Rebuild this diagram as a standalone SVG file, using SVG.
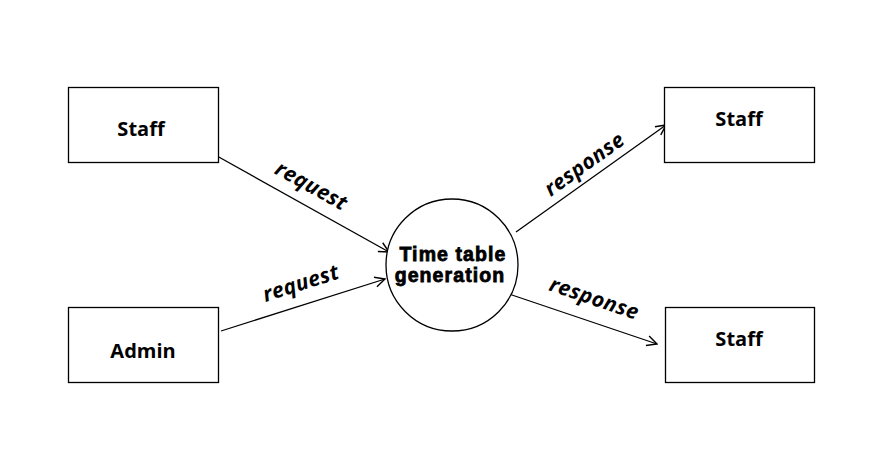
<svg xmlns="http://www.w3.org/2000/svg" width="879" height="461" viewBox="0 0 879 461">
<defs>
<marker id="arr" viewBox="0 0 12 12" refX="11" refY="6" markerWidth="12" markerHeight="12" markerUnits="userSpaceOnUse" orient="auto">
<path d="M1,1 L11,6 L1,11" fill="none" stroke="#000" stroke-width="1.4"/>
</marker>
<style>
.box{fill:#fff;stroke:#000;stroke-width:1.3}
.lbl{font-family:"Open Sans","Noto Sans",sans-serif;font-weight:bold;font-size:20px;text-anchor:middle;fill:#000}
.ct{font-family:"Liberation Sans",Arial,sans-serif;font-weight:bold;font-size:19.5px;letter-spacing:1.1px;text-anchor:middle;fill:#000;stroke:#000;stroke-width:0.8}
.edge{fill:none;stroke:#000;stroke-width:1.3;marker-end:url(#arr)}
.el{font-family:"Open Sans","Noto Sans",sans-serif;font-weight:bold;font-style:italic;font-size:21px;letter-spacing:0.4px;text-anchor:middle;fill:#000}
</style>
</defs>
<rect width="879" height="461" fill="#fff"/>
<g id="connectors">
<line class="edge" x1="217" y1="156" x2="389" y2="252"/>
<line class="edge" x1="221" y1="331" x2="385" y2="279"/>
<line class="edge" x1="516" y1="232" x2="666" y2="125"/>
<line class="edge" x1="509" y1="294" x2="657" y2="344"/>
<text class="el" transform="translate(308,192) rotate(29)">request</text>
<text class="el" transform="translate(303,290) rotate(-17.6)">request</text>
<text class="el" transform="translate(588.5,170) rotate(-35.5)">response</text>
<text class="el" transform="translate(592,305) rotate(18.7)">response</text>
</g>
<g id="staff-left">
<rect class="box" x="68.5" y="87.5" width="150" height="75"/>
<text class="lbl" x="141" y="136">Staff</text>
</g>
<g id="admin">
<rect class="box" x="68.5" y="307.5" width="150" height="75"/>
<text class="lbl" x="143" y="357.5">Admin</text>
</g>
<g id="process">
<circle cx="452" cy="265" r="66" fill="#fff" stroke="#000" stroke-width="1.3"/>
<text class="ct" x="453" y="261">Time table</text>
<text class="ct" x="450" y="282">generation</text>
</g>
<g id="staff-right-top">
<rect class="box" x="664.5" y="87.5" width="150" height="75"/>
<text class="lbl" x="739" y="125.5">Staff</text>
</g>
<g id="staff-right-bottom">
<rect class="box" x="665.5" y="307.5" width="149" height="75"/>
<text class="lbl" x="739" y="345.5">Staff</text>
</g>
</svg>
